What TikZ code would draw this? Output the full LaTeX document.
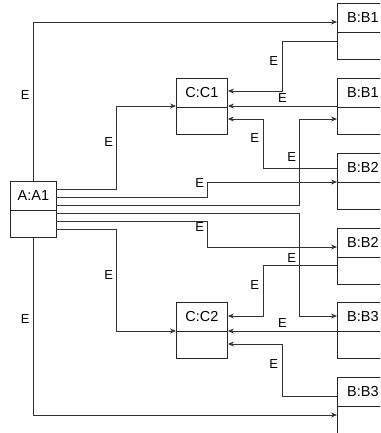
\documentclass[tikz,border=0pt]{standalone}
\usepackage{fontspec}
\setmainfont{Liberation Sans}
\usetikzlibrary{arrows.meta,positioning}

\begin{document}
\begin{tikzpicture}[
  x=1pt, y=-1pt,
  object/.style={rectangle, draw=black!85, line width=0.9pt, minimum width=51pt, minimum height=56pt, anchor=north west, inner sep=0pt},
  divider/.style={draw=black!85, line width=0.9pt},
  obj label/.style={font=\fontsize{14.5}{16}\selectfont, inner sep=0pt, text=black},
  link/.style={draw=black!80, line width=0.9pt, -{Stealth[length=6pt,width=5pt]}},
  edge label/.style={rectangle, draw=none, font=\fontsize{13}{15}\selectfont, inner sep=3.5pt, text=black}
]
  \useasboundingbox (0,0) rectangle (380,433);
  \clip (0,0) rectangle (380,433);

  % objects
  \node[object, minimum width=46pt] (A1) at (10,181) {};
  \node[object] (C1) at (176,78)  {};
  \node[object] (C2) at (176,302) {};
  \foreach \name/\y in {B1a/3, B1b/78, B2a/153, B2b/228, B3a/302, B3b/377}
    \node[object] (\name) at (337,\y) {};
  \foreach \name/\txt in {A1/A:A1, C1/C:C1, C2/C:C2, B1a/B:B1, B1b/B:B1, B2a/B:B2, B2b/B:B2, B3a/B:B3, B3b/B:B3} {
    \draw[divider] ([yshift=-29pt]\name.north west) -- ([yshift=-29pt]\name.north east);
    \node[obj label] at ([yshift=-14.5pt]\name.north) {\txt};
  }

  % links leaving A:A1
  \draw[link] (A1.north) |- node[edge label, pos=0.27, left] {E} ([yshift=-19pt]B1a.north west);
  \draw[link] ([yshift=-8pt]A1.north east) -- ++(60,0) |- node[edge label, pos=0.28, left] {E} ([yshift=-28pt]C1.north west);
  \draw[link] ([yshift=-16pt]A1.north east) -- ++(151,0) |- node[edge label, pos=0.47, left] {E} ([yshift=-29pt]B2a.north west);
  \draw[link] ([yshift=-24pt]A1.north east) -- ++(243,0) |- node[edge label, pos=0.28, left] {E} ([yshift=-41pt]B1b.north west);
  \draw[link] ([yshift=-32pt]A1.north east) -- ++(243,0) |- node[edge label, pos=0.22, left] {E} ([yshift=-14pt]B3a.north west);
  \draw[link] ([yshift=-40pt]A1.north east) -- ++(151,0) |- node[edge label, pos=0.12, left] {E} ([yshift=-19pt]B2b.north west);
  \draw[link] ([yshift=-48pt]A1.north east) -- ++(60,0) |- node[edge label, pos=0.225, left] {E} ([yshift=-29pt]C2.north west);
  \draw[link] (A1.south) |- node[edge label, pos=0.23, left] {E} ([yshift=-38pt]B3b.north west);

  % links into C:C1 and C:C2
  \draw[link] ([yshift=-38pt]B1a.north west) -- ++(-55,0) |- node[edge label, pos=0.2, left] {E} ([yshift=-13pt]C1.north east);
  \draw[link] ([yshift=-28pt]B1b.north west) -- node[edge label, above] {E} ([yshift=-28pt]C1.north east);
  \draw[link] ([yshift=-15pt]B2a.north west) -- ++(-74,0) |- node[edge label, pos=0.31, left] {E} ([yshift=-41pt]C1.north east);
  \draw[link] ([yshift=-37pt]B2b.north west) -- ++(-74,0) |- node[edge label, pos=0.2, left] {E} ([yshift=-14pt]C2.north east);
  \draw[link] ([yshift=-29pt]B3a.north west) -- node[edge label, above] {E} ([yshift=-29pt]C2.north east);
  \draw[link] ([yshift=-19pt]B3b.north west) -- ++(-55,0) |- node[edge label, pos=0.31, left] {E} ([yshift=-42pt]C2.north east);
\end{tikzpicture}
\end{document}
